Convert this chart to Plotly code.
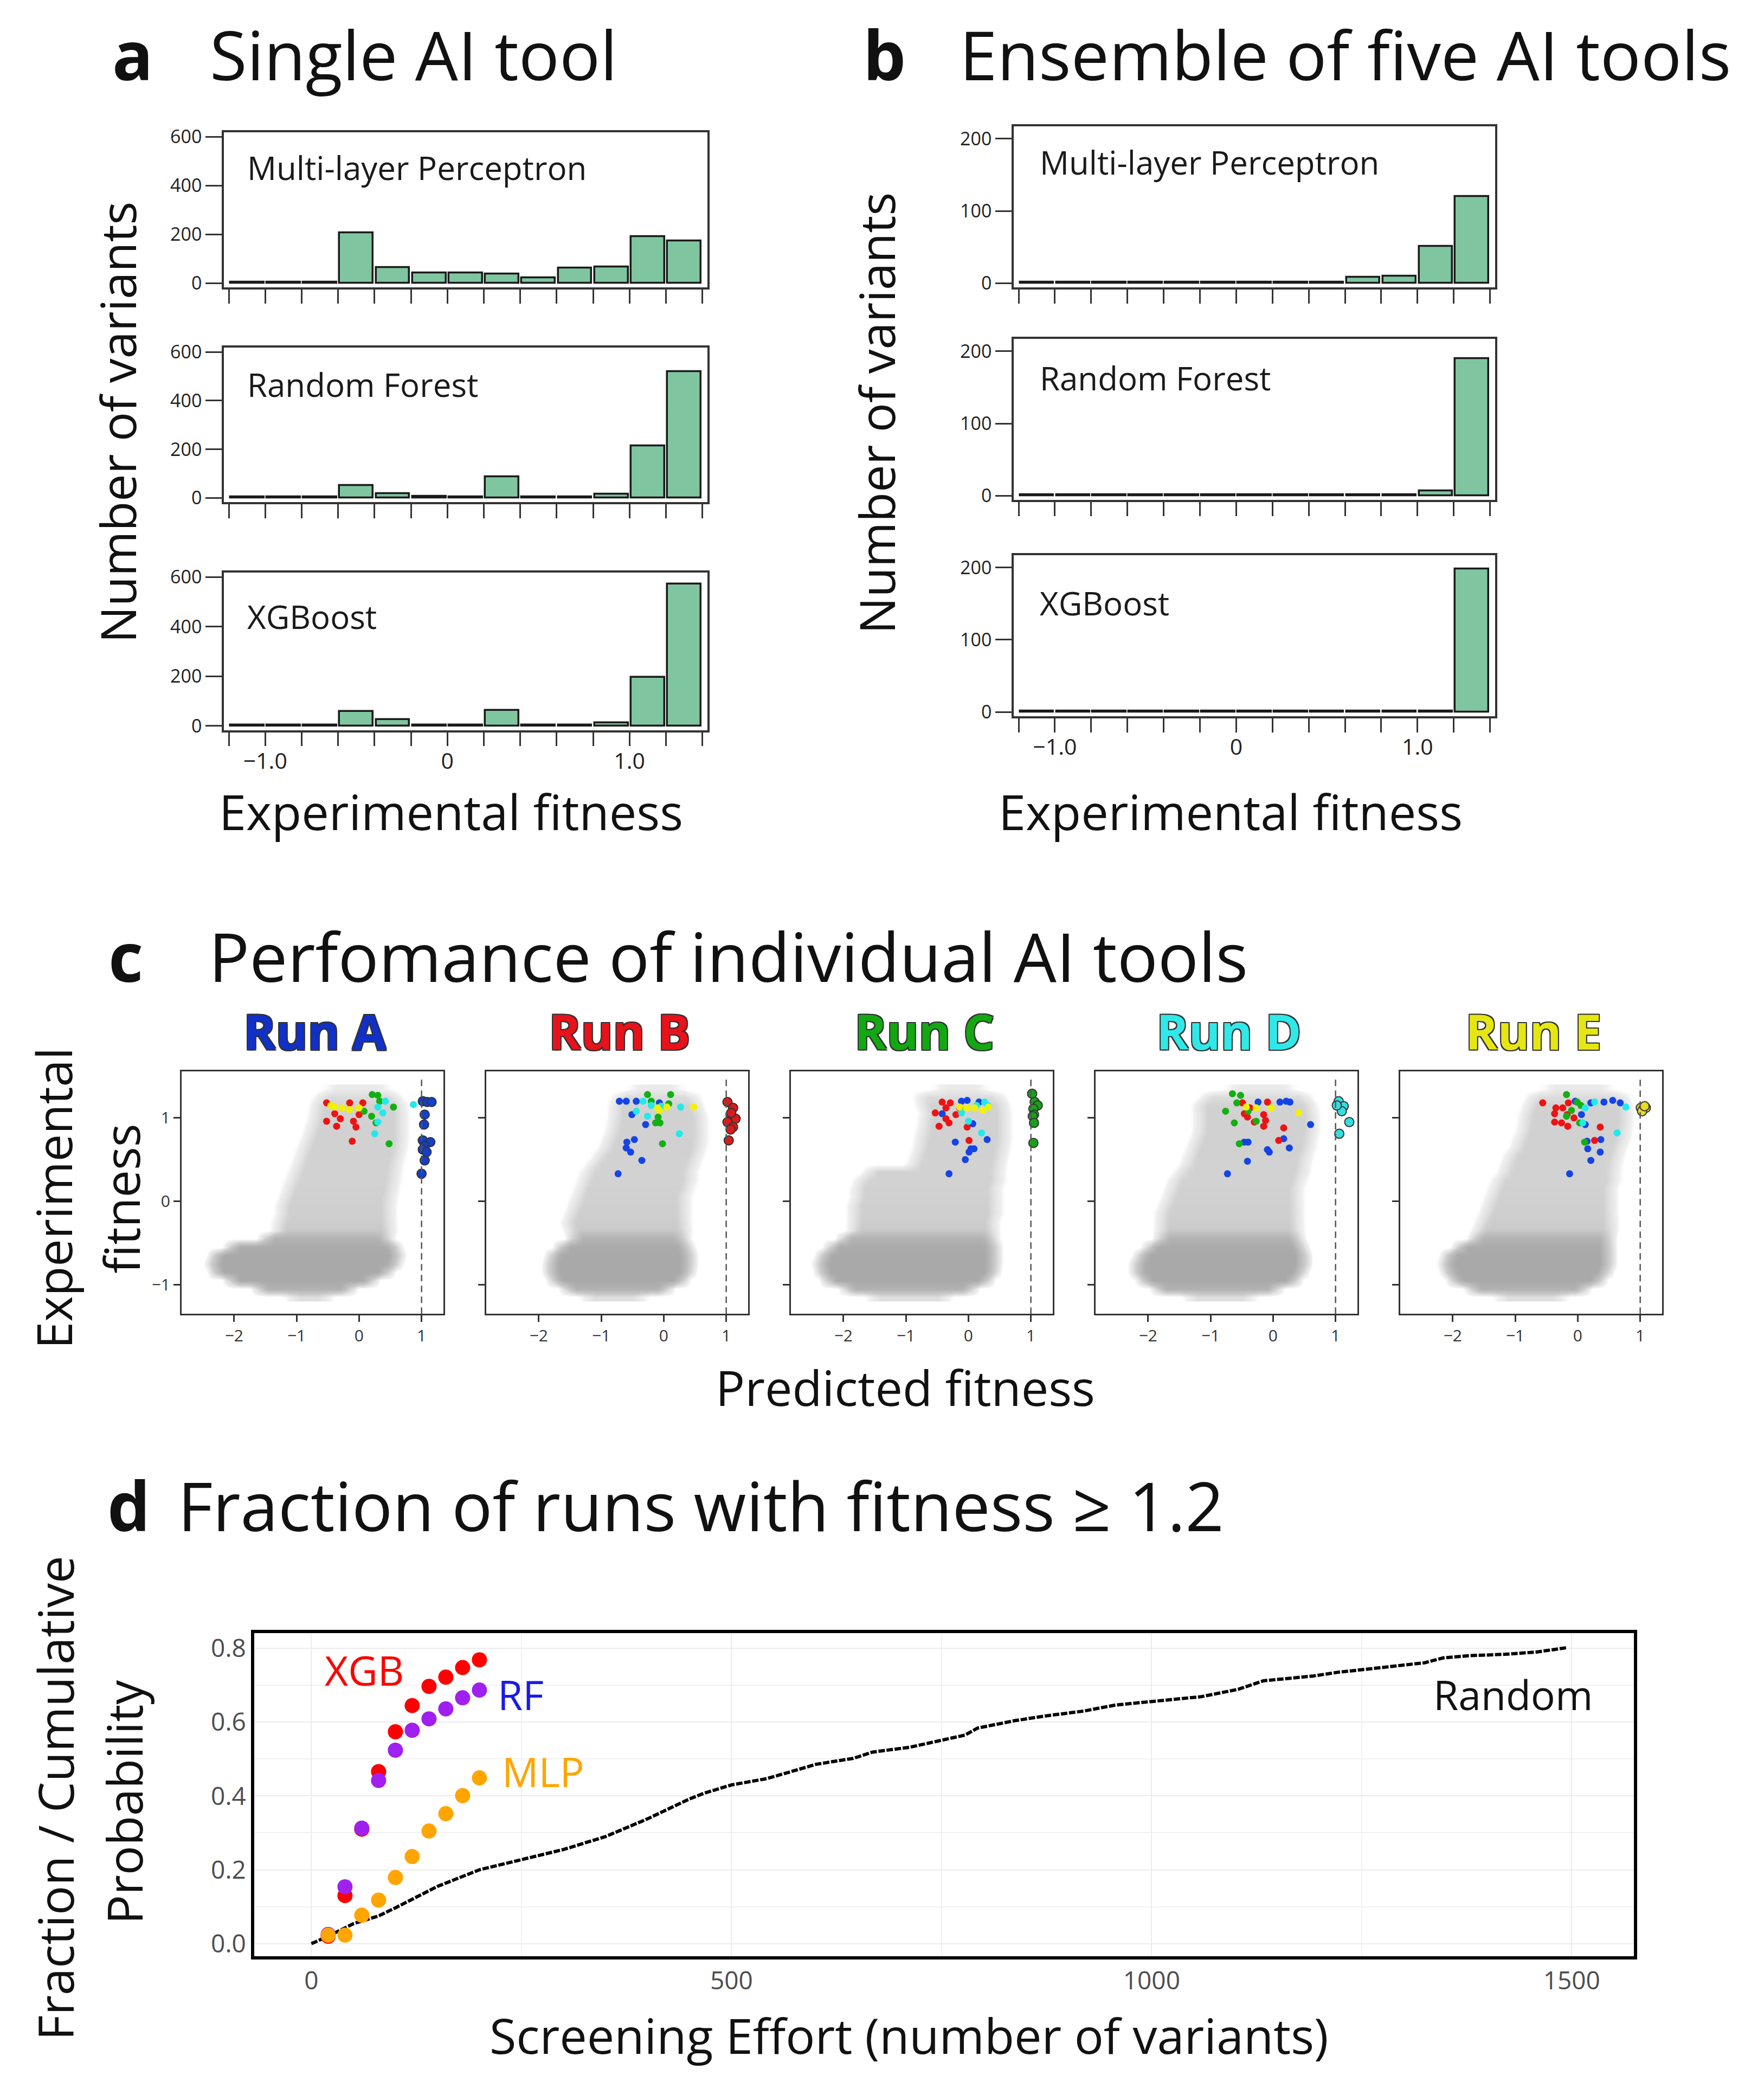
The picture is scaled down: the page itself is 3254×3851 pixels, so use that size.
import plotly.graph_objects as go

W, H = 3254, 3851
FONT = "Open Sans"
NARROW = "Liberation Sans Narrow, Open Sans"

# ---------------- data: panels a / b (histograms) ----------------
BIN_EDGES = [-1.2, -1.0, -0.8, -0.6, -0.4, -0.2, 0.0, 0.2, 0.4, 0.6, 0.8, 1.0, 1.2, 1.4]
BIN_CENTERS = [-1.1, -0.9, -0.7, -0.5, -0.3, -0.1, 0.1, 0.3, 0.5, 0.7, 0.9, 1.1, 1.3]
HIST_TICK_LABELS = ["", "−1.0", "", "", "", "", "0", "", "", "", "", "1.0", "", ""]
MODEL_NAMES = ["Multi-layer Perceptron", "Random Forest", "XGBoost"]

single_mlp = [4, 4, 4, 208, 65, 43, 43, 38, 22, 62, 68, 191, 174]
single_rf = [4, 4, 4, 51, 19, 7, 4, 88, 4, 4, 15, 214, 519]
single_xgb = [4, 4, 4, 59, 25, 4, 4, 64, 4, 4, 12, 197, 572]
ens_mlp = [1.5, 1.5, 1.5, 1.5, 1.5, 1.5, 1.5, 1.5, 1.5, 8, 10, 51, 120]
ens_rf = [1.5, 1.5, 1.5, 1.5, 1.5, 1.5, 1.5, 1.5, 1.5, 1.5, 1.5, 7, 190]
ens_xgb = [1.5, 1.5, 1.5, 1.5, 1.5, 1.5, 1.5, 1.5, 1.5, 1.5, 1.5, 1.5, 198]

# ---------------- data: panel c (predicted vs experimental) ----------------
RUN_NAMES = ["Run A", "Run B", "Run C", "Run D", "Run E"]
RUN_CODES = ["A", "B", "C", "D", "E"]
THRESHOLD = 1.0

# background cloud of all variants: per-row extents and density
CLOUD_Y = [-1.15, -1.05, -0.95, -0.85, -0.75, -0.65, -0.55, -0.45, -0.35, -0.25, -0.15, -0.05,
           0.05, 0.15, 0.25, 0.35, 0.45, 0.55, 0.65, 0.75, 0.85, 0.95, 1.05, 1.15, 1.25, 1.35]
CLOUD_LEVEL = [0.3, 0.85, 1.0, 1.0, 1.0, 1.0, 0.97, 0.85, 0.52, 0.46, 0.44, 0.43,
               0.42, 0.41, 0.4, 0.4, 0.4, 0.41, 0.41, 0.41, 0.41, 0.41, 0.41, 0.4, 0.32, 0.18]
CLOUD_A_LEFT = [-1.1, -1.6, -2.05, -2.3, -2.35, -2.3, -2.05, -1.5, -1.3, -1.3, -1.25, -1.25,
                -1.2, -1.15, -1.1, -1.05, -1.0, -0.95, -0.9, -0.85, -0.8, -0.75, -0.72, -0.7, -0.65, -0.5]
CLOUD_A_RIGHT = [-0.5, -0.15, 0.2, 0.45, 0.58, 0.62, 0.58, 0.45, 0.5, 0.5, 0.5, 0.5,
                 0.52, 0.55, 0.58, 0.6, 0.62, 0.65, 0.68, 0.7, 0.7, 0.7, 0.7, 0.68, 0.62, 0.45]
CLOUD_B_LEFT = [-1.25, -1.55, -1.75, -1.82, -1.82, -1.78, -1.65, -1.45, -1.5, -1.55, -1.5, -1.45,
                -1.4, -1.35, -1.3, -1.25, -1.15, -1.05, -0.95, -0.9, -0.85, -0.82, -0.8, -0.8, -0.75, -0.5]
CLOUD_B_RIGHT = [-0.35, 0.05, 0.3, 0.4, 0.42, 0.42, 0.38, 0.32, 0.35, 0.35, 0.35, 0.35,
                 0.35, 0.4, 0.45, 0.45, 0.5, 0.55, 0.6, 0.62, 0.62, 0.62, 0.6, 0.55, 0.5, 0.25]
CLOUD_C_LEFT = [-1.55, -1.95, -2.25, -2.35, -2.38, -2.33, -2.2, -2.0, -1.85, -1.85, -1.85, -1.85,
                -1.8, -1.8, -1.75, -1.6, -0.9, -0.85, -0.8, -0.78, -0.75, -0.72, -0.7, -0.75, -0.8, -0.5]
CLOUD_C_RIGHT = [-0.35, 0.05, 0.3, 0.4, 0.42, 0.42, 0.42, 0.38, 0.4, 0.4, 0.45, 0.45,
                 0.45, 0.45, 0.5, 0.5, 0.52, 0.55, 0.58, 0.6, 0.6, 0.6, 0.6, 0.58, 0.52, 0.25]
CLOUD_D_LEFT = [-1.35, -1.85, -2.08, -2.18, -2.18, -2.12, -1.98, -1.8, -1.8, -1.8, -1.8, -1.75,
                -1.7, -1.65, -1.6, -1.5, -1.4, -1.35, -1.3, -1.25, -1.2, -1.2, -1.2, -1.2, -1.1, -0.7]
CLOUD_D_RIGHT = [-0.35, 0.05, 0.35, 0.45, 0.5, 0.5, 0.45, 0.4, 0.4, 0.4, 0.4, 0.4,
                 0.4, 0.4, 0.45, 0.5, 0.52, 0.55, 0.6, 0.62, 0.65, 0.65, 0.65, 0.62, 0.55, 0.3]
CLOUD_E_LEFT = [-1.25, -1.7, -1.98, -2.08, -2.12, -2.08, -1.9, -1.65, -1.6, -1.55, -1.5, -1.45,
                -1.4, -1.35, -1.3, -1.2, -1.15, -1.1, -1.0, -0.95, -0.9, -0.87, -0.85, -0.8, -0.75, -0.5]
CLOUD_E_RIGHT = [-0.25, 0.1, 0.35, 0.45, 0.5, 0.5, 0.5, 0.5, 0.55, 0.55, 0.55, 0.55,
                 0.55, 0.55, 0.6, 0.6, 0.62, 0.65, 0.7, 0.75, 0.78, 0.8, 0.8, 0.8, 0.75, 0.5]

# highlighted variants per run (x = predicted, y = experimental, src = run whose colour)
RUN_A_X = [-0.52, -0.39, -0.52, -0.36, -0.30, -0.09, -0.05, -0.11, 0.06, 0.00, -0.15,
           -0.39, -0.27, -0.15, 0.00, -0.45,
           0.21, 0.30, 0.33, 0.55, 0.20, 0.27, 0.48, 0.08,
           0.42, 0.30, 0.38, 0.30, 0.25, 0.87,
           1.02, 1.09, 1.16, 1.05, 1.04, 1.02, 1.14, 1.05, 1.02, 1.08, 1.05, 1.00]
RUN_A_Y = [1.18, 1.05, 0.96, 0.90, 0.99, 0.96, 0.89, 0.72, 1.18, 1.04, 1.18,
           1.13, 1.12, 1.10, 1.12, 1.15,
           1.28, 1.27, 1.20, 1.13, 1.02, 0.94, 0.69, 1.08,
           1.20, 1.13, 1.06, 0.95, 0.81, 1.16,
           1.20, 1.19, 1.19, 1.04, 0.92, 0.73, 0.71, 0.66, 0.62, 0.59, 0.49, 0.33]
RUN_A_SRC = "BBBBBBBBBBB" "EEEEE" "CCCCCCCC" "DDDDDD" "AAAAAAAAAAAA"

RUN_B_X = [-0.71, -0.60, -0.44, -0.51, -0.29, -0.59, -0.47, -0.60, -0.53, -0.35, -0.73, -0.07,
           -0.26, 0.11, 0.08, -0.09, -0.13, -0.06, -0.02, -0.20,
           -0.33, -0.20, -0.44, -0.04, 0.27, 0.25, -0.26,
           -0.10, 0.05, 0.48, -0.07,
           1.02, 1.11, 1.07, 1.15, 1.02, 1.11, 1.07, 1.04, 1.08]
RUN_B_Y = [1.20, 1.20, 1.20, 1.04, 0.92, 0.71, 0.74, 0.64, 0.59, 0.49, 0.33, 1.18,
           1.28, 1.28, 1.17, 1.01, 0.94, 0.94, 0.69, 1.20,
           1.20, 1.15, 1.08, 1.14, 1.13, 0.81, 1.02,
           1.12, 1.13, 1.13, 1.09,
           1.19, 1.12, 1.04, 0.99, 0.95, 0.89, 0.86, 0.73, 1.06]
RUN_B_SRC = "AAAAAAAAAAAA" "CCCCCCCC" "DDDDDDD" "EEEE" "BBBBBBBBB"

RUN_C_X = [-0.42, -0.29, -0.36, -0.53, -0.20, -0.36, -0.31, -0.47, -0.02, 0.01, -0.14,
           -0.11, -0.02, 0.17, -0.42, 0.07, -0.21, 0.04, 0.09, 0.01, 0.30, -0.05, -0.31,
           -0.14, -0.02, 0.10, 0.23, 0.32,
           0.26, 0.31, 0.13, -0.11, 0.00, 0.21,
           1.02, 1.06, 1.11, 1.04, 1.05, 1.03, 1.05, 1.04]
RUN_C_Y = [1.19, 1.18, 1.12, 1.06, 1.04, 0.99, 0.94, 0.90, 0.89, 0.73, 1.12,
           1.20, 1.21, 1.19, 1.05, 0.93, 0.71, 0.63, 0.63, 0.59, 0.74, 0.50, 0.33,
           1.13, 1.12, 1.12, 1.09, 1.13,
           1.19, 1.15, 1.15, 1.06, 0.96, 0.82,
           1.29, 1.19, 1.15, 1.11, 1.04, 1.02, 0.94, 0.70]
RUN_C_SRC = "BBBBBBBBBBB" "AAAAAAAAAAAA" "EEEEE" "DDDDDD" "CCCCCCCC"

RUN_D_X = [-0.65, -0.52, -0.58, -0.76, -0.40, -0.62, -0.27, -0.54,
           -0.49, -0.37, -0.09, -0.46, -0.41, -0.30, -0.15, -0.12, -0.15, 0.17, 0.09,
           -0.24, 0.11, 0.21, 0.27, 0.60, -0.46, -0.40, 0.17, -0.09, 0.26, -0.06, -0.41, -0.73,
           -0.43, -0.27, -0.03, 0.41,
           1.05, 1.13, 1.10, 1.22, 1.06, 1.02]
RUN_D_Y = [1.29, 1.27, 1.18, 1.08, 1.08, 0.94, 0.96, 0.69,
           1.18, 1.12, 1.19, 1.05, 1.01, 0.95, 1.04, 0.97, 0.90, 0.88, 0.73,
           1.19, 1.19, 1.20, 1.19, 0.92, 0.71, 0.71, 0.75, 0.62, 0.64, 0.59, 0.48, 0.33,
           1.13, 1.12, 1.12, 1.06,
           1.20, 1.14, 1.08, 0.95, 0.81, 1.15]
RUN_D_SRC = "CCCCCCCC" "BBBBBBBBBBB" "AAAAAAAAAAAAA" "EEEE" "DDDDDD"

RUN_E_X = [-0.56, -0.35, -0.24, -0.15, -0.37, -0.17, -0.06, -0.37, -0.26, -0.16, 0.36, 0.27,
           -0.18, -0.01, -0.10, -0.18, 0.03, 0.11, 0.05,
           -0.04, 0.21, 0.42, 0.56, 0.68, 0.06, 0.12, 0.15, 0.37, 0.16, 0.36, 0.21, -0.13,
           0.12, 0.27, 0.77, 0.63, 0.08,
           1.01, 1.05, 1.09, 1.03, 1.07]
RUN_E_Y = [1.18, 1.12, 1.12, 1.18, 1.05, 1.04, 1.00, 0.95, 0.94, 0.90, 0.89, 0.73,
           1.28, 1.19, 1.09, 1.02, 0.94, 0.71, 1.15,
           1.20, 1.18, 1.19, 1.21, 1.18, 1.04, 0.92, 0.72, 0.74, 0.63, 0.59, 0.49, 0.33,
           1.12, 1.19, 1.13, 0.82, 0.94,
           1.12, 1.11, 1.12, 1.08, 1.14]
RUN_E_SRC = "BBBBBBBBBBBB" "CCCCCCC" "AAAAAAAAAAAAA" "DDDDD" "EEEEE"

# ---------------- data: panel d ----------------
EFFORT = [20, 40, 60, 80, 100, 120, 140, 160, 180, 200]
frac_xgb = [0.02, 0.13, 0.31, 0.466, 0.574, 0.645, 0.697, 0.722, 0.748, 0.769]
frac_rf = [0.025, 0.154, 0.313, 0.442, 0.524, 0.578, 0.609, 0.636, 0.666, 0.687]
frac_mlp = [0.023, 0.023, 0.077, 0.118, 0.179, 0.236, 0.305, 0.352, 0.401, 0.449]
random_x = [0, 20, 50, 80, 100, 150, 200, 250, 300, 350, 400, 450, 468, 500, 542, 601, 645, 668,
            712, 778, 793, 837, 874, 919, 956, 1000, 1059, 1103, 1133, 1192, 1221, 1258, 1288,
            1325, 1347, 1377, 1421, 1458, 1495]
random_y = [0.0, 0.02, 0.054, 0.075, 0.097, 0.155, 0.2, 0.228, 0.255, 0.29, 0.338, 0.392, 0.408,
            0.43, 0.447, 0.486, 0.502, 0.519, 0.532, 0.565, 0.584, 0.604, 0.617, 0.63, 0.646,
            0.656, 0.669, 0.689, 0.712, 0.725, 0.735, 0.744, 0.751, 0.761, 0.774, 0.78, 0.784,
            0.79, 0.802]

# ---------------- styling ----------------
BAR_FILL = "#7fc6a0"
POINT_COL = {"A": "#1444e6", "B": "#f01212", "C": "#12b012", "D": "#22eaea", "E": "#f2f200"}
OWN_COL = {"A": "#1240cc", "B": "#dd1a1a", "C": "#1aa01a", "D": "#34dede", "E": "#e6dc20"}
TITLE_COL = {"A": "#1030c8", "B": "#e8121a", "C": "#12a812", "D": "#30e8e8", "E": "#e6e612"}


def px(x):
    return x / W


def py(y):
    return 1 - y / H


def xdom(l, r):
    return [l / W, r / W]


def ydom(t, b):
    return [1 - b / H, 1 - t / H]


fig = go.Figure()
layout_axes = {}
annotations = []
shapes = []

# ---------------- panels a & b ----------------
hist_sets = [
    ([single_mlp, single_rf, single_xgb], [405, 1297], [(222, 510), (622, 909), (1040, 1333)],
     [-17, 618], [0, 200, 400, 600], [0.775, 0.76, 0.72], 0.046),
    ([ens_mlp, ens_rf, ens_xgb], [1862, 2750], [(211, 510), (606, 905), (1008, 1307)],
     [-5.8, 217], [0, 100, 200], [0.78, 0.757, 0.705], 0.052),
]
ax = 0
for counts_list, xd, ydoms, yr, ytv, lab_y, lab_x in hist_sets:
    for k, counts in enumerate(counts_list):
        ax += 1
        xa = "x" if ax == 1 else f"x{ax}"
        ya = "y" if ax == 1 else f"y{ax}"
        fig.add_trace(go.Bar(x=BIN_CENTERS, y=counts, width=0.184, xaxis=xa, yaxis=ya,
                             marker=dict(color=BAR_FILL, line=dict(color="#1a1a1a", width=3.5)),
                             showlegend=False))
        bottom = (k == 2)
        layout_axes[f"xaxis{ax}"] = dict(
            domain=xdom(*xd), anchor=ya, range=[-1.227, 1.428],
            tickvals=BIN_EDGES, ticktext=HIST_TICK_LABELS if bottom else [""] * len(BIN_EDGES),
            ticks="outside", ticklen=26, tickwidth=3, tickcolor="#333", ticklabelstandoff=-8,
            showline=True, mirror=True, linecolor="#333", linewidth=3.5,
            showgrid=False, zeroline=False,
            tickfont=dict(size=41, family=FONT, color="#222"))
        layout_axes[f"yaxis{ax}"] = dict(
            domain=ydom(*ydoms[k]), anchor=xa, range=yr, tickvals=ytv,
            ticks="outside", ticklen=30, tickwidth=3, tickcolor="#333",
            showline=True, mirror=True, linecolor="#333", linewidth=3.5,
            showgrid=False, zeroline=False,
            tickfont=dict(size=34, family=FONT, color="#222"))
        annotations.append(dict(xref=f"{xa} domain", yref=f"{ya} domain", x=lab_x, y=lab_y[k],
                                xanchor="left", yanchor="middle", showarrow=False,
                                text=MODEL_NAMES[k], font=dict(size=60, family=FONT, color="#1a1a1a")))

# ---------------- panel c ----------------
HEAT_X = [round(-2.9 + 0.05 * i, 3) for i in range(88)]
EDGE = 0.3
cloud_left = [CLOUD_A_LEFT, CLOUD_B_LEFT, CLOUD_C_LEFT, CLOUD_D_LEFT, CLOUD_E_LEFT]
cloud_right = [CLOUD_A_RIGHT, CLOUD_B_RIGHT, CLOUD_C_RIGHT, CLOUD_D_RIGHT, CLOUD_E_RIGHT]
run_x = [RUN_A_X, RUN_B_X, RUN_C_X, RUN_D_X, RUN_E_X]
run_y = [RUN_A_Y, RUN_B_Y, RUN_C_Y, RUN_D_Y, RUN_E_Y]
run_src = [RUN_A_SRC, RUN_B_SRC, RUN_C_SRC, RUN_D_SRC, RUN_E_SRC]
lefts = [327, 889, 1451, 2013, 2575]
BOX_W = 483

for r in range(5):
    ax += 1
    xa, ya = f"x{ax}", f"y{ax}"
    z = []
    for i in range(len(CLOUD_Y)):
        row = []
        for xv in HEAT_X:
            d = min(xv - cloud_left[r][i], cloud_right[r][i] - xv)
            f = max(0.0, min(1.0, (d + EDGE / 2) / EDGE))
            row.append(CLOUD_LEVEL[i] * f)
        z.append(row)
    fig.add_trace(go.Heatmap(x=HEAT_X, y=CLOUD_Y, z=z, xaxis=xa, yaxis=ya, zmin=0, zmax=1,
                             zsmooth="best", showscale=False, hoverinfo="skip",
                             colorscale=[[0, "rgba(255,255,255,0)"], [0.12, "rgba(232,232,232,0.7)"],
                                         [0.4, "rgb(210,210,210)"], [0.6, "rgb(194,194,194)"],
                                         [1, "rgb(169,169,169)"]]))
    own = RUN_CODES[r]
    for code in ["A", "B", "C", "D", "E"]:
        if code == own:
            continue
        xs = [run_x[r][i] for i, s in enumerate(run_src[r]) if s == code]
        ys = [run_y[r][i] for i, s in enumerate(run_src[r]) if s == code]
        fig.add_trace(go.Scatter(x=xs, y=ys, mode="markers", xaxis=xa, yaxis=ya, showlegend=False,
                                 marker=dict(size=13, color=POINT_COL[code], line=dict(width=0))))
    xs = [run_x[r][i] for i, s in enumerate(run_src[r]) if s == own]
    ys = [run_y[r][i] for i, s in enumerate(run_src[r]) if s == own]
    fig.add_trace(go.Scatter(x=xs, y=ys, mode="markers", xaxis=xa, yaxis=ya, showlegend=False,
                             marker=dict(size=17, color=OWN_COL[own], line=dict(width=2, color="#333"))))
    layout_axes[f"xaxis{ax}"] = dict(
        domain=xdom(lefts[r], lefts[r] + BOX_W), anchor=ya, range=[-2.84, 1.35],
        tickvals=[-2, -1, 0, 1], ticktext=["−2", "−1", "0", "1"],
        ticks="outside", ticklen=12, tickwidth=3, tickcolor="#333",
        showline=True, mirror=True, linecolor="#333", linewidth=3,
        showgrid=False, zeroline=False,
        tickfont=dict(size=30, family=NARROW, color="#333"))
    layout_axes[f"yaxis{ax}"] = dict(
        domain=ydom(1967, 2418), anchor=xa, range=[-1.35, 1.56],
        tickvals=[-1, 0, 1], ticktext=["−1", "0", "1"] if r == 0 else ["", "", ""],
        ticks="outside", ticklen=12, tickwidth=3, tickcolor="#333",
        showline=True, mirror=True, linecolor="#333", linewidth=3,
        showgrid=False, zeroline=False,
        tickfont=dict(size=30, family=NARROW, color="#333"))
    shapes.append(dict(type="line", xref=xa, yref=f"{ya} domain", x0=THRESHOLD, x1=THRESHOLD,
                       y0=0, y1=0.98, line=dict(color="#555", width=2.5, dash="12px,8px")))
    annotations.append(dict(xref="paper", yref="paper", x=px(lefts[r] + BOX_W / 2 + 4), y=py(1892),
                            xanchor="center", yanchor="middle", showarrow=False,
                            text=f"<b>{RUN_NAMES[r]}</b>",
                            font=dict(size=90, family=FONT, color=TITLE_COL[own],
                                      shadow="-2px -2px 0 #333, 2px -2px 0 #333, -2px 2px 0 #333, 2px 2px 0 #333")))

# ---------------- panel d ----------------
ax += 1
xa, ya = f"x{ax}", f"y{ax}"
fig.add_trace(go.Scatter(x=random_x, y=random_y, mode="lines", xaxis=xa, yaxis=ya, showlegend=False,
                         line=dict(color="black", width=6, dash="12px,3px")))
for ys, col in [(frac_xgb, "#ff0000"), (frac_rf, "#a020f0"), (frac_mlp, "#ffa500")]:
    fig.add_trace(go.Scatter(x=EFFORT, y=ys, mode="markers", xaxis=xa, yaxis=ya, showlegend=False,
                             marker=dict(size=28, color=col, line=dict(width=0))))
layout_axes[f"xaxis{ax}"] = dict(
    domain=xdom(461, 3006), anchor=ya, range=[-68, 1574], tickvals=[0, 500, 1000, 1500],
    showgrid=True, gridcolor="#ececec", gridwidth=2,
    minor=dict(dtick=250, tick0=0, showgrid=True, gridcolor="#f2f2f2", gridwidth=2),
    showline=True, mirror=True, linecolor="black", linewidth=6, zeroline=False, ticks="",
    tickfont=dict(size=46, family=FONT, color="#4d4d4d"))
layout_axes[f"yaxis{ax}"] = dict(
    domain=ydom(3011, 3612), anchor=xa, range=[-0.034, 0.842], tickvals=[0, 0.2, 0.4, 0.6, 0.8],
    tickformat=".1f", showgrid=True, gridcolor="#ececec", gridwidth=2,
    minor=dict(dtick=0.1, tick0=0, showgrid=True, gridcolor="#f2f2f2", gridwidth=2),
    showline=True, mirror=True, linecolor="black", linewidth=6, zeroline=False, ticks="",
    tickfont=dict(size=46, family=FONT, color="#4d4d4d"))
for txt, x, y, col in [("XGB", 63, 0.741, "#ff0000"), ("RF", 249, 0.675, "#1a1ae6"),
                       ("MLP", 276, 0.466, "#ffa500"), ("Random", 1430, 0.675, "#111111")]:
    annotations.append(dict(xref=xa, yref=ya, x=x, y=y, xanchor="center", yanchor="middle",
                            showarrow=False, text=txt, font=dict(size=75, family=FONT, color=col)))

# ---------------- titles ----------------
BIG = dict(size=125, family=FONT, color="#111")
AXT = dict(size=90, family=FONT, color="#111")


def ann(text, x, y, font, xanchor="center", yanchor="middle", angle=0):
    annotations.append(dict(xref="paper", yref="paper", x=px(x), y=py(y), text=text, font=font,
                            xanchor=xanchor, yanchor=yanchor, showarrow=False, textangle=angle))


ann("<b>a</b>", 237, 76, BIG)
ann("Single AI tool", 377, 76, BIG, xanchor="left")
ann("<b>b</b>", 1623, 76, BIG)
ann("Ensemble of five AI tools", 1760, 76, BIG, xanchor="left")
ann("<b>c</b>", 224, 1752, BIG)
ann("Perfomance of individual AI tools", 375, 1752, BIG, xanchor="left")
ann("<b>d</b>", 229, 2773, BIG)
ann("Fraction of runs with fitness ≥ 1.2", 318, 2773, BIG, xanchor="left")

ann("Number of variants", 208, 761, AXT, angle=-90)
ann("Number of variants", 1608, 744, AXT, angle=-90)
ann("Experimental fitness", 824, 1484, AXT)
ann("Experimental fitness", 2262, 1484, AXT)
ann("Experimental", 90, 2203, AXT, angle=-90)
ann("fitness", 215, 2203, AXT, angle=-90)
ann("Predicted fitness", 1662, 2554, AXT)
ann("Fraction / Cumulative", 93, 3318, AXT, angle=-90)
ann("Probability", 220, 3326, AXT, angle=-90)
ann("Screening Effort (number of variants)", 1669, 3758, AXT)

fig.update_layout(width=W, height=H, margin=dict(l=0, r=0, t=0, b=0),
                  paper_bgcolor="white", plot_bgcolor="white", bargap=0,
                  annotations=annotations, shapes=shapes, font=dict(family=FONT),
                  **layout_axes)

fig.write_html("out.html")
